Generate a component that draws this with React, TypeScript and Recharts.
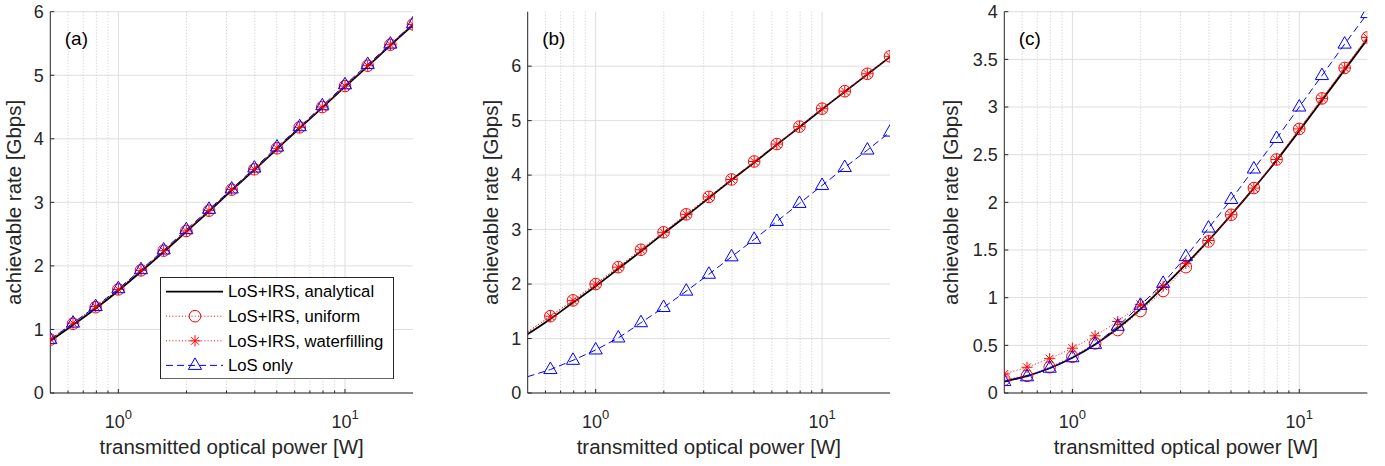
// Achievable rate vs. transmitted optical power, three panels (a)(b)(c)
import { CartesianGrid, Customized, Legend, Line, LineChart, XAxis, YAxis } from 'recharts'

/* ── data ── */

// transmitted optical power [W], 0.1-decade steps
const POWER = [0.501, 0.631, 0.794, 1, 1.259, 1.585, 1.995, 2.512, 3.162, 3.981, 5.012, 6.31, 7.943, 10, 12.59, 15.85, 19.95]

const A_ANALYTICAL = [0.82, 1.07, 1.33, 1.61, 1.91, 2.22, 2.54, 2.86, 3.19, 3.51, 3.84, 4.17, 4.49, 4.82, 5.14, 5.47, 5.79]
const A_UNIFORM = [0.84, 1.09, 1.35, 1.63, 1.93, 2.24, 2.55, 2.87, 3.2, 3.52, 3.85, 4.18, 4.5, 4.83, 5.15, 5.48, 5.8]
const A_WATERFILLING = [0.85, 1.1, 1.36, 1.63, 1.93, 2.24, 2.55, 2.87, 3.2, 3.52, 3.85, 4.18, 4.5, 4.83, 5.15, 5.48, 5.8]
const A_LOS = [0.84, 1.1, 1.36, 1.64, 1.94, 2.25, 2.57, 2.89, 3.21, 3.54, 3.87, 4.19, 4.52, 4.85, 5.17, 5.49, 5.81]

const B_ANALYTICAL = [1.08, 1.36, 1.66, 1.96, 2.28, 2.6, 2.93, 3.25, 3.58, 3.91, 4.23, 4.56, 4.88, 5.21, 5.53, 5.85, 6.17]
const B_UNIFORM = [1.12, 1.41, 1.7, 2.0, 2.31, 2.63, 2.95, 3.28, 3.6, 3.92, 4.25, 4.57, 4.89, 5.22, 5.54, 5.86, 6.18]
const B_WATERFILLING = [1.12, 1.41, 1.7, 2.0, 2.31, 2.63, 2.95, 3.28, 3.6, 3.92, 4.25, 4.57, 4.89, 5.22, 5.54, 5.86, 6.18]
const B_LOS = [0.3, 0.43, 0.6, 0.79, 1.01, 1.29, 1.57, 1.87, 2.18, 2.5, 2.82, 3.15, 3.48, 3.81, 4.14, 4.46, 4.79]

const C_ANALYTICAL = [0.12, 0.18, 0.26, 0.37, 0.51, 0.68, 0.88, 1.11, 1.35, 1.6, 1.87, 2.15, 2.44, 2.75, 3.07, 3.39, 3.71]
const C_UNIFORM = [0.14, 0.18, 0.27, 0.38, 0.52, 0.66, 0.86, 1.07, 1.32, 1.59, 1.87, 2.15, 2.45, 2.77, 3.09, 3.41, 3.73]
const C_WATERFILLING = [0.2, 0.27, 0.36, 0.47, 0.6, 0.75, 0.93, 1.12, 1.36, 1.6, 1.87, 2.15, 2.45, 2.77, 3.09, 3.41, 3.73]
const C_LOS = [0.12, 0.17, 0.26, 0.37, 0.51, 0.7, 0.92, 1.15, 1.43, 1.73, 2.03, 2.35, 2.67, 3.0, 3.33, 3.66, 3.98]

const X_DOMAIN = [0.501, 19.95]
const X_MAJOR = [1, 10]
const X_MINOR = [0.6, 0.7, 0.8, 0.9, 2, 3, 4, 5, 6, 7, 8, 9]
const X_TICKS = [0.6, 0.7, 0.8, 0.9, 1, 2, 3, 4, 5, 6, 7, 8, 9, 10]

const Y_TICKS_AB = [0, 1, 2, 3, 4, 5, 6]
const Y_TICKS_C = [0, 0.5, 1, 1.5, 2, 2.5, 3, 3.5, 4]

const SERIES_ORDER = ['analytical', 'uniform', 'waterfilling', 'los']
const NAMES = {
  analytical: 'LoS+IRS, analytical',
  uniform: 'LoS+IRS, uniform',
  waterfilling: 'LoS+IRS, waterfilling',
  los: 'LoS only',
}

/* ── styling ── */

const FONT = '"Liberation Sans", Arial, Helvetica, sans-serif'
const AXIS = '#262626'
const RED = '#ff0000'
const BLUE = '#0000ff'
const GRID = '#dedede'
const GRID_MINOR = '#c8c8c8'
const RED_DOT = '1 2.2'
const BLUE_DASH = '7 4'

const CHART_H = 466
const PLOT_TOP = 11.7
const X_AXIS_H = 73
const TICK_FS = 18
const TITLE_FS = 20.5

/* ── markers ── */

type Shape = 'circle' | 'star' | 'triangle'

function Marker({ shape, cx, cy, color }: { shape: Shape; cx: number; cy: number; color: string }) {
  if (shape === 'circle') {
    return <circle cx={cx} cy={cy} r={5.8} fill="none" stroke={color} strokeWidth={1} />
  }
  if (shape === 'star') {
    const r = 5.6
    const d = r * 0.7
    return (
      <g stroke={color} strokeWidth={1}>
        <line x1={cx - r} y1={cy} x2={cx + r} y2={cy} />
        <line x1={cx} y1={cy - r} x2={cx} y2={cy + r} />
        <line x1={cx - d} y1={cy - d} x2={cx + d} y2={cy + d} />
        <line x1={cx - d} y1={cy + d} x2={cx + d} y2={cy - d} />
      </g>
    )
  }
  return (
    <polygon
      points={`${cx},${cy - 7.5} ${cx - 6.6},${cy + 4} ${cx + 6.6},${cy + 4}`}
      fill="none"
      stroke={color}
      strokeWidth={1}
    />
  )
}

const markerDot = (shape: Shape, color: string, skipFirst: boolean) => (props: any) => {
  const { cx, cy, index } = props
  if ((skipFirst && index === 0) || cx == null || cy == null) return <g key={`m${index}`} />
  return (
    <g key={`m${index}`}>
      <Marker shape={shape} cx={cx} cy={cy} color={color} />
    </g>
  )
}

/* ── axis ticks (MATLAB style: pointing inward, box on) ── */

const isMajor = (v: number) => X_MAJOR.includes(v)

const BottomTick = (p: any) => {
  const v = p.payload.value
  const major = isMajor(v)
  return (
    <g>
      <line x1={p.x} x2={p.x} y1={p.y} y2={p.y - (major ? 4 : 2.5)} stroke={AXIS} />
      {major && (
        <text x={p.x} y={p.y + 35} textAnchor="middle" fontSize={TICK_FS} fontFamily={FONT} fill={AXIS}>
          10
          <tspan dy={-9} fontSize={13}>
            {Math.round(Math.log10(v))}
          </tspan>
        </text>
      )}
    </g>
  )
}

const TopTick = (p: any) => {
  const major = isMajor(p.payload.value)
  return <line x1={p.x} x2={p.x} y1={p.y} y2={p.y + (major ? 4 : 2.5)} stroke={AXIS} />
}

const LeftTick = (p: any) => (
  <g>
    <line x1={p.x} x2={p.x + 4} y1={p.y} y2={p.y} stroke={AXIS} />
    <text x={p.x - 6.5} y={p.y} dy="0.35em" textAnchor="end" fontSize={TICK_FS} fontFamily={FONT} fill={AXIS}>
      {p.payload.value}
    </text>
  </g>
)

const RightTick = (p: any) => <line x1={p.x} x2={p.x - 4} y1={p.y} y2={p.y} stroke={AXIS} />

/* ── legend ── */

const LEGEND_W = 234
const LEGEND_H = 102.3

const LEGEND_STYLE: Record<string, { stroke: string; dash?: string; width: number; shape?: Shape }> = {
  analytical: { stroke: '#000', width: 1.8 },
  uniform: { stroke: RED, dash: RED_DOT, width: 1, shape: 'circle' },
  waterfilling: { stroke: RED, dash: RED_DOT, width: 1, shape: 'star' },
  los: { stroke: BLUE, dash: BLUE_DASH, width: 1, shape: 'triangle' },
}

const renderLegend = ({ payload }: any) => {
  // keep the plotting order (recharts sorts by name otherwise)
  const items = [...(payload || [])].sort(
    (a: any, b: any) => SERIES_ORDER.indexOf(a.dataKey) - SERIES_ORDER.indexOf(b.dataKey),
  )
  return (
    <svg width={LEGEND_W} height={LEGEND_H} style={{ display: 'block' }}>
      <rect x={0.5} y={0.5} width={LEGEND_W - 1} height={LEGEND_H - 1} fill="#fff" stroke={AXIS} />
      {items.map((entry: any, i: number) => {
        const st = LEGEND_STYLE[entry.dataKey as string]
        const cy = 14.6 + i * 24.6
        return (
          <g key={entry.dataKey}>
            <line x1={6} x2={63} y1={cy} y2={cy} stroke={st.stroke} strokeWidth={st.width} strokeDasharray={st.dash} />
            {st.shape && <Marker shape={st.shape} cx={35} cy={cy} color={st.stroke} />}
            <text x={68} y={cy} dy="0.35em" fontSize={16.7} fontFamily={FONT} fill="#000">
              {entry.value}
            </text>
          </g>
        )
      })}
    </svg>
  )
}

/* ── one panel ── */

interface PanelProps {
  tag: string
  analytical: number[]
  uniform: number[]
  waterfilling: number[]
  los: number[]
  yMax: number
  yTicks: number[]
  left: number
  width: number
  plotLeft: number
  plotRight: number
  yTitleX: number
  hideFirstMarker?: boolean
  legend?: boolean
}

function Panel(props: PanelProps) {
  const { tag, yMax, yTicks, left, width, plotLeft, plotRight, yTitleX } = props
  const skip = !!props.hideFirstMarker
  const data = POWER.map((p, i) => ({
    p,
    analytical: props.analytical[i],
    uniform: props.uniform[i],
    waterfilling: props.waterfilling[i],
    los: props.los[i],
  }))
  const plotBottom = CHART_H - X_AXIS_H
  const midX = (plotLeft + plotRight) / 2
  const midY = (PLOT_TOP + plotBottom) / 2

  return (
    <div style={{ position: 'absolute', left, top: 0 }}>
      <LineChart
        width={width}
        height={CHART_H}
        data={data}
        margin={{ top: PLOT_TOP, right: width - plotRight, bottom: 0, left: 0 }}
      >
        <CartesianGrid horizontalValues={yTicks} verticalValues={X_MAJOR} stroke={GRID} strokeWidth={1} />
        <CartesianGrid horizontal={false} verticalValues={X_MINOR} stroke={GRID_MINOR} strokeDasharray="1 2" />
        <XAxis
          dataKey="p"
          type="number"
          scale="log"
          domain={X_DOMAIN}
          allowDataOverflow
          ticks={X_TICKS}
          interval={0}
          tickLine={false}
          tickSize={0}
          tickMargin={0}
          tick={BottomTick}
          axisLine={{ stroke: AXIS }}
          height={X_AXIS_H}
        />
        <XAxis
          xAxisId="top"
          orientation="top"
          dataKey="p"
          type="number"
          scale="log"
          domain={X_DOMAIN}
          allowDataOverflow
          ticks={X_TICKS}
          interval={0}
          tickLine={false}
          tickSize={0}
          tickMargin={0}
          tick={TopTick}
          axisLine={{ stroke: AXIS }}
          height={0}
        />
        <YAxis
          type="number"
          domain={[0, yMax]}
          allowDataOverflow
          ticks={yTicks}
          interval={0}
          tickLine={false}
          tickSize={0}
          tickMargin={0}
          tick={LeftTick}
          axisLine={{ stroke: AXIS }}
          width={plotLeft}
        />
        <YAxis
          yAxisId="right"
          orientation="right"
          type="number"
          domain={[0, yMax]}
          allowDataOverflow
          ticks={yTicks}
          interval={0}
          tickLine={false}
          tickSize={0}
          tickMargin={0}
          tick={RightTick}
          axisLine={{ stroke: AXIS }}
          width={0}
        />
        <Line
          dataKey="analytical"
          name={NAMES.analytical}
          type="monotone"
          stroke="#000"
          strokeWidth={1.8}
          dot={false}
          activeDot={false}
          isAnimationActive={false}
        />
        <Line
          dataKey="uniform"
          name={NAMES.uniform}
          type="linear"
          stroke={RED}
          strokeWidth={1}
          strokeDasharray={RED_DOT}
          dot={markerDot('circle', RED, skip)}
          activeDot={false}
          isAnimationActive={false}
        />
        <Line
          dataKey="waterfilling"
          name={NAMES.waterfilling}
          type="linear"
          stroke={RED}
          strokeWidth={1}
          strokeDasharray={RED_DOT}
          dot={markerDot('star', RED, skip)}
          activeDot={false}
          isAnimationActive={false}
        />
        <Line
          dataKey="los"
          name={NAMES.los}
          type="linear"
          stroke={BLUE}
          strokeWidth={1}
          strokeDasharray={BLUE_DASH}
          dot={markerDot('triangle', BLUE, skip)}
          activeDot={false}
          isAnimationActive={false}
        />
        <Customized
          component={() => (
            <g fontFamily={FONT} fill={AXIS}>
              <text x={plotLeft + 14.5} y={45} fontSize={19} fill="#000">
                {tag}
              </text>
              <text x={midX} y={plotBottom + 60.5} textAnchor="middle" fontSize={TITLE_FS}>
                transmitted optical power [W]
              </text>
              <text
                x={yTitleX}
                y={midY}
                textAnchor="middle"
                fontSize={TITLE_FS}
                transform={`rotate(-90, ${yTitleX}, ${midY})`}
              >
                achievable rate [Gbps]
              </text>
            </g>
          )}
        />
        {props.legend && (
          <Legend
            layout="horizontal"
            verticalAlign="middle"
            align="center"
            itemSorter={null}
            content={renderLegend}
            wrapperStyle={{ left: 160.3, top: 276.7, width: LEGEND_W, height: LEGEND_H }}
          />
        )}
      </LineChart>
    </div>
  )
}

export default function App() {
  return (
    <div
      style={{
        position: 'absolute',
        left: 0,
        top: 0,
        width: 1385,
        height: CHART_H,
        background: '#fff',
        fontFamily: FONT,
      }}
    >
      <Panel
        tag="(a)"
        analytical={A_ANALYTICAL}
        uniform={A_UNIFORM}
        waterfilling={A_WATERFILLING}
        los={A_LOS}
        yMax={6}
        yTicks={Y_TICKS_AB}
        left={0}
        width={460}
        plotLeft={50.3}
        plotRight={413}
        yTitleX={20.7}
        legend
      />
      <Panel
        tag="(b)"
        analytical={B_ANALYTICAL}
        uniform={B_UNIFORM}
        waterfilling={B_WATERFILLING}
        los={B_LOS}
        yMax={7}
        yTicks={Y_TICKS_AB}
        left={460}
        width={460}
        plotLeft={67.7}
        plotRight={430}
        yTitleX={38.4}
        hideFirstMarker
      />
      <Panel
        tag="(c)"
        analytical={C_ANALYTICAL}
        uniform={C_UNIFORM}
        waterfilling={C_WATERFILLING}
        los={C_LOS}
        yMax={4}
        yTicks={Y_TICKS_C}
        left={920}
        width={465}
        plotLeft={84.3}
        plotRight={447.3}
        yTitleX={38.4}
      />
    </div>
  )
}
